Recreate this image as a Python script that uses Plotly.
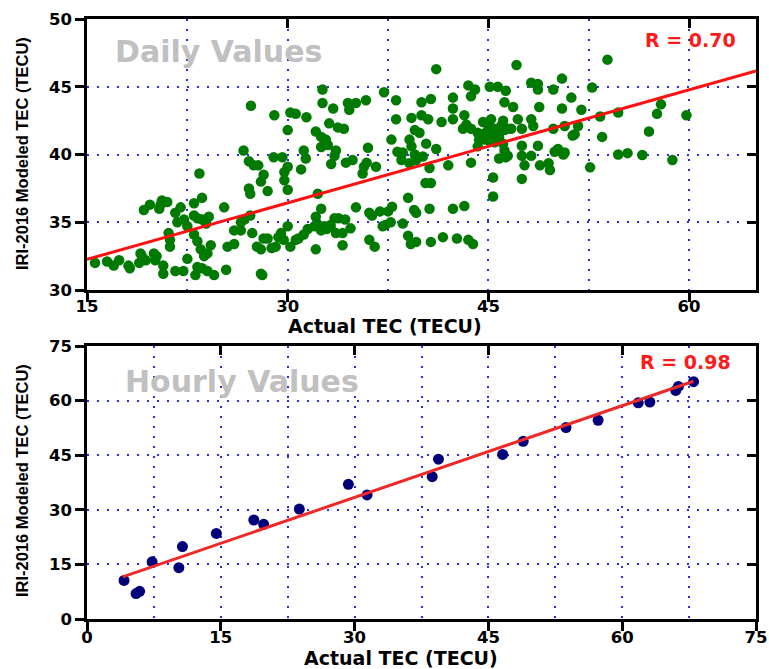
import plotly.graph_objects as go

# ---- Daily values: actual vs IRI-2016 modeled TEC (TECU) ----
daily_actual = [
    15.6, 16.5, 17.0, 17.4, 18.1, 18.2, 18.9, 19.0, 19.1, 19.4, 20.0, 20.1, 20.2, 20.7, 20.7,
    21.6, 22.2, 22.5, 21.2, 21.2, 21.1, 23.0, 23.25, 23.5, 23.75, 24.0, 24.25, 23.25, 23.1, 23.6,
    24.0, 24.5, 25.4, 25.5, 26.0, 26.0, 26.5, 26.75, 27.2, 27.35, 27.7, 28.0, 28.2, 28.5, 28.8,
    29.1, 29.3, 29.5, 29.7, 30.0, 30.2, 30.6, 30.8, 28.0, 28.1, 31.2, 31.5, 32.0, 32.2, 32.5,
    32.9, 33.2, 33.6, 32.1, 19.25, 19.7, 20.4, 20.6, 21.0, 20.5, 21.6, 22.0, 21.75, 22.25, 23.0,
    23.6, 23.0, 23.25, 23.6, 23.9, 24.1, 22.5, 23.4, 25.25, 26.5,
    26.7, 27.1, 27.45, 27.8, 28.0, 28.2, 27.1, 27.2, 28.5, 28.95, 29.6, 29.75, 29.75, 30.0, 30.0,
    31.0, 31.35, 31.2, 32.25, 32.5, 32.1, 32.75, 33.25, 33.5, 33.6, 27.25, 29.0, 30.0, 30.2, 30.6,
    31.4, 32.6, 32.6, 33.4, 33.1, 33.75, 34.2, 32.1, 32.5, 32.85, 33.0, 32.5, 34.5, 34.6, 35.1,
    35.85, 36.0, 37.2,
    38.1, 38.1, 37.75, 39.1, 39.25, 39.25, 40.0, 40.7, 40.0, 40.5, 41.5, 39.5, 39.85, 40.35, 41.1,
    39.5, 38.6, 41.1, 42.35, 42.35, 42.35, 43.2, 43.1, 43.5, 44.0, 43.7, 43.35, 43.7, 44.2, 44.3,
    44.2, 44.6, 45.0, 45.2, 44.8, 45.2, 45.45, 45.7, 44.7, 45.1, 45.45, 45.8, 46.2, 45.95, 46.45,
    46.1, 46.2, 46.45, 45.1, 45.7, 46.3, 46.2, 46.85, 46.1, 46.7, 47.2, 47.5, 48.2, 48.35, 47.1,
    48.2, 48.7, 48.7, 49.85, 50.5, 51.2, 48.8, 50.5, 47.5, 48.7, 47.5, 48.2, 49.85, 50.7, 51.45,
    51.7, 50.2, 50.7,
    53.9, 52.75, 51.95, 51.3, 53.35, 54.7, 53.5, 57.9, 57.6, 59.8, 57.0, 54.7, 55.4, 56.5, 58.75,
    52.6,
    42.0, 43.7, 45.8, 46.3, 47.7, 47.5, 48.85, 49.5, 49.6, 50.6, 49.95, 34.35, 34.85, 35.7, 35.6,
    36.6, 35.9, 38.2, 38.5, 39.1, 39.6, 40.1, 40.6, 40.3, 40.7, 45.35, 45.35, 39.0, 35.1, 36.1,
    36.3, 36.9, 37.5, 37.8, 39.45, 39.6, 40.6, 42.35, 43.2, 33.5, 33.8, 34.3, 33.2, 34.7, 34.1,
    37.1, 37.3, 37.7, 38.6, 34.1, 36.1, 36.5, 39.0, 39.2, 39.6, 40.7, 41.6, 42.65, 43.5, 43.85,
]
daily_model = [
    32.0, 32.1, 31.8, 32.2, 31.8, 31.6, 32.0, 32.7, 32.5, 32.2, 32.7, 32.2, 32.5, 31.8, 31.2,
    31.4, 31.4, 32.3, 33.2, 33.7, 34.2, 34.1, 33.6, 33.0, 32.5, 32.7, 33.3, 31.7, 31.1, 31.6,
    31.4, 31.1, 31.5, 33.2, 33.4, 34.4, 35.0, 35.2, 35.5, 34.2, 33.2, 33.0, 33.8, 33.8, 33.1,
    33.2, 33.9, 34.2, 33.7, 34.7, 33.2, 33.7, 33.8, 31.2, 31.1, 34.1, 34.5, 34.7, 34.9, 34.4,
    34.5, 34.7, 34.2, 33.0, 35.9, 36.3, 36.0, 36.6, 36.5, 36.3, 35.7, 36.1, 35.0, 35.2, 36.4,
    36.8, 35.5, 35.3, 35.2, 34.9, 35.4, 34.7, 38.6, 36.1, 34.4,
    40.3, 39.5, 39.2, 39.2, 38.0, 38.5, 37.5, 37.1, 37.3, 39.8, 39.8, 38.7, 38.1, 39.1, 37.4,
    38.9, 39.7, 40.3, 37.1, 36.0, 35.4, 34.7, 39.3, 39.9, 40.3, 43.6, 42.9, 41.8, 43.1, 43.0,
    42.75, 44.8, 43.8, 43.4, 42.3, 42.0, 41.9, 41.7, 41.3, 41.1, 40.7, 40.55, 43.8, 43.3, 43.8,
    44.0, 40.5, 44.6,
    44.0, 42.6, 41.1, 41.1, 40.6, 42.7, 43.85, 44.1, 42.9, 42.6, 42.4, 41.8, 41.6, 40.8, 40.4,
    40.0, 40.15, 46.3, 44.2, 43.4, 42.6, 42.9, 41.9, 45.1, 44.8, 44.3, 42.2, 41.9, 41.6, 41.1,
    40.6, 42.4, 42.1, 42.6, 41.6, 41.5, 41.9, 41.6, 41.1, 41.0, 40.9, 41.3, 41.8, 42.1, 41.9,
    40.8, 40.3, 39.9, 45.0, 45.0, 44.7, 43.85, 43.5, 42.5, 41.9, 42.6, 41.9, 42.6, 42.1, 46.6,
    45.3, 45.2, 44.8, 44.8, 45.6, 44.2, 43.5, 43.4, 40.65, 40.65, 39.9, 39.9, 41.9, 42.1, 41.5,
    42.1, 40.4, 40.15,
    47.0, 44.95, 43.3, 41.4, 42.8, 43.1, 41.3, 43.7, 43.0, 42.9, 41.7, 40.0, 40.1, 39.96, 39.6,
    39.05,
    39.2, 39.4, 39.7, 39.8, 39.2, 38.2, 39.2, 39.35, 38.85, 40.0, 40.2, 39.4, 39.6, 39.1, 38.6,
    39.1, 39.4, 40.2, 39.6, 39.35, 39.6, 39.85, 39.0, 37.9, 37.9, 38.3, 36.9, 36.8, 36.1, 35.7,
    35.5, 35.8, 35.8, 36.15, 35.9, 35.7, 36.0, 36.0, 36.2, 35.3, 35.3, 35.2, 34.8, 34.55, 34.2,
    34.7, 34.8, 35.0, 34.9, 33.3, 33.7, 33.2, 34.0, 33.4, 33.55, 33.55, 33.9, 33.8, 33.7, 33.4,
]

# ---- Hourly values ----
hourly_actual = [4.15, 5.5, 5.9, 7.3, 10.3, 10.7, 14.5, 18.7, 19.8, 23.8, 29.3, 31.4,
                 38.7, 39.4, 46.6, 48.9, 53.7, 57.3, 61.8, 63.1, 66.0, 66.3, 68.0]
hourly_model = [10.6, 7.0, 7.6, 15.7, 14.1, 19.9, 23.5, 27.2, 26.0, 30.2, 37.0, 34.1,
                39.1, 43.9, 45.2, 48.8, 52.6, 54.6, 59.4, 59.6, 62.8, 63.9, 65.2]

# Least-squares lines (intercept, slope) and the x-span they are drawn over
daily_fit = (28.09, 0.278)
daily_fit_span = [15, 65]
hourly_fit = (8.2, 0.84)
hourly_fit_span = [4.0, 68.0]

daily_r_label = "R = 0.70"
hourly_r_label = "R = 0.98"

BOLD = "DejaVu Sans"
GRID = dict(gridcolor="#2a2ae8", gridwidth=2, griddash="2px,8px")
FRAME = dict(showline=True, linecolor="black", linewidth=2.5, mirror=True,
             ticks="outside", ticklen=9, tickwidth=2.5, tickcolor="black",
             tickfont=dict(family=BOLD, size=16.5, color="black", weight=700),
             zeroline=False, showgrid=True, automargin=False, **GRID)
INNER = dict(ticks="inside", ticklen=9, tickwidth=2.5, tickcolor="black",
             showticklabels=False, showgrid=False, showline=False, zeroline=False,
             automargin=False)

top_dom = [1 - 290 / 669, 1 - 19 / 669]
bot_dom = [1 - 619 / 669, 1 - 346 / 669]
x_dom = [87 / 769, 756 / 769]


def line_y(fit, span):
    a, b = fit
    return [a + b * v for v in span]


fig = go.Figure()
fig.add_trace(go.Scatter(x=daily_actual, y=daily_model, mode="markers",
                         marker=dict(size=10.5, color="#007a00"), xaxis="x", yaxis="y"))
fig.add_trace(go.Scatter(x=daily_fit_span, y=line_y(daily_fit, daily_fit_span), mode="lines",
                         line=dict(color="#ff1010", width=3), xaxis="x", yaxis="y"))
fig.add_trace(go.Scatter(x=hourly_actual, y=hourly_model, mode="markers",
                         marker=dict(size=11, color="#00007a"), xaxis="x2", yaxis="y2"))
fig.add_trace(go.Scatter(x=hourly_fit_span, y=line_y(hourly_fit, hourly_fit_span), mode="lines",
                         line=dict(color="#f02828", width=3), xaxis="x2", yaxis="y2"))
# empty traces so the inward mirror-tick axes get drawn
fig.add_trace(go.Scatter(x=[None], y=[None], xaxis="x3", yaxis="y3", hoverinfo="skip"))
fig.add_trace(go.Scatter(x=[None], y=[None], xaxis="x4", yaxis="y4", hoverinfo="skip"))

fig.update_layout(
    width=769, height=669, margin=dict(l=0, r=0, t=0, b=0, autoexpand=False),
    paper_bgcolor="white", plot_bgcolor="white", showlegend=False,
    xaxis=dict(domain=x_dom, anchor="y", range=[15, 65], tick0=15, dtick=15,
               ticklabelstandoff=-10,
               minor=dict(dtick=7.5, tick0=15, showgrid=True, **GRID), **FRAME),
    yaxis=dict(domain=top_dom, anchor="x", range=[30, 50], tick0=30, dtick=5, **FRAME),
    xaxis2=dict(domain=x_dom, anchor="y2", range=[0, 75], tick0=0, dtick=15,
                ticklabelstandoff=-8,
                minor=dict(dtick=7.5, tick0=0, showgrid=True, **GRID), **FRAME),
    yaxis2=dict(domain=bot_dom, anchor="x2", range=[0, 75], tick0=0, dtick=15, **FRAME),
    xaxis3=dict(overlaying="x", anchor="y3", side="top", range=[15, 65],
                tickmode="array", tickvals=[30, 45, 60], **INNER),
    yaxis3=dict(overlaying="y", anchor="x3", side="right", range=[30, 50],
                tickmode="array", tickvals=[35, 40, 45], **INNER),
    xaxis4=dict(overlaying="x2", anchor="y4", side="top", range=[0, 75],
                tickmode="array", tickvals=[15, 30, 45, 60], **INNER),
    yaxis4=dict(overlaying="y2", anchor="x4", side="right", range=[0, 75],
                tickmode="array", tickvals=[15, 30, 45, 60], **INNER),
)

title_font = dict(family=BOLD, size=19, color="black", weight=700)
ytitle_font = dict(family="Liberation Sans", size=16.5, color="black", weight=700)
label_font = dict(family=BOLD, size=30, color="#c0c0c0", weight=700)
r_font = dict(family=BOLD, size=19, color="#ff1a1a", weight=700)

notes = [
    dict(text="Daily Values", x=218 / 769, y=1 - 51 / 669, font=label_font),
    dict(text=daily_r_label, x=690 / 769, y=1 - 40 / 669, font=r_font),
    dict(text="Hourly Values", x=242 / 769, y=1 - 382 / 669, font=label_font),
    dict(text=hourly_r_label, x=685 / 769, y=1 - 362 / 669, font=r_font),
    dict(text="Actual TEC (TECU)", x=385 / 769, y=1 - 326 / 669, font=title_font),
    dict(text="Actual TEC (TECU)", x=401 / 769, y=1 - 658 / 669, font=title_font),
    dict(text="IRI-2016 Modeled TEC (TECU)", x=22 / 769, y=1 - 154 / 669,
         font=ytitle_font, textangle=-90),
    dict(text="IRI-2016 Modeled TEC (TECU)", x=22 / 769, y=1 - 481 / 669,
         font=ytitle_font, textangle=-90),
]
for n in notes:
    fig.add_annotation(xref="paper", yref="paper", xanchor="center", yanchor="middle",
                       showarrow=False, **n)

fig.write_html("out.html")
